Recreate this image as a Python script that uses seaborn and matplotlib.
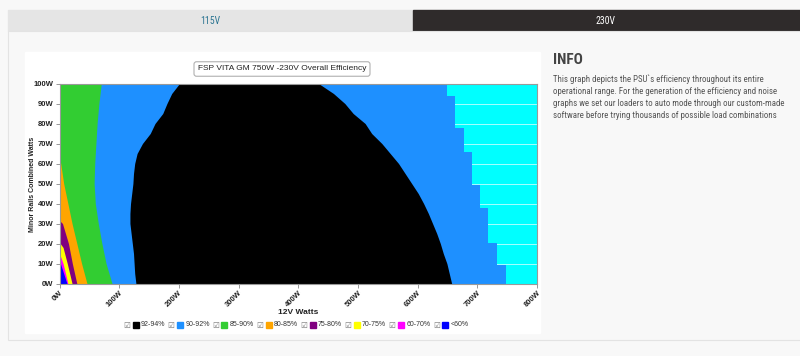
import numpy as np
import matplotlib.pyplot as plt
import seaborn as sns
from matplotlib import font_manager
from matplotlib.patches import Rectangle

# 12V load (W) where each efficiency zone ends, read per minor-rails load (W)
stair_minor = [0, 9.25, 20.4, 37.6, 49.25, 65.9, 77.6, 93.75, 100]
stair_12v = [748, 733, 718, 704, 691, 677, 663, 650, 650]  # 90-92% right edge

black_minor = [0, 5, 10, 15, 20, 25, 30, 35, 40, 45, 50, 55, 60, 65, 70, 75, 80, 85, 90, 95, 100]
black_left = [128, 126, 125, 124, 122, 120, 118, 118, 119, 121, 123, 124, 126, 130, 139, 152, 160, 173, 180, 188, 201]
black_right = [657, 653, 649, 643, 638, 632, 625, 618, 610, 601, 590, 579, 568, 554, 540, 523, 512, 492, 478, 459, 434]

green_minor = [0, 10, 20, 30, 40, 50, 60, 70, 80, 90, 100]
green_12v = [88, 78, 71, 65, 60, 58, 59, 61, 63, 66, 70]
orange_minor = [0, 10, 20, 30, 40, 50, 60, 63.5]
orange_12v = [46, 37, 29, 21, 14, 7, 2, 0]
purple_minor = [0, 10, 20, 30, 31.5]
purple_12v = [29, 21.5, 15, 5, 0]
yellow_minor = [0, 10, 18, 20.5]
yellow_12v = [21, 13, 6, 0]
magenta_minor = [0, 5, 10, 15]
magenta_12v = [14, 10, 6, 0]
low_minor = [0, 5, 10, 12]
low_12v = [12.5, 7, 1.5, 0]

legend_labels = ["92-94%", "90-92%", "85-90%", "80-85%", "75-80%", "70-75%", "60-70%", "<60%"]
legend_colors = ["#000000", "#1e90ff", "#32cd32", "#ffa500", "#800080", "#ffff00", "#ff00ff", "#0000ff"]
x_ticks = [0, 100, 200, 300, 400, 500, 600, 700, 800]
y_ticks = [0, 10, 20, 30, 40, 50, 60, 70, 80, 90, 100]

info_lines = [
    "This graph depicts the PSU`s efficiency throughout its entire",
    "operational range. For the generation of the efficiency and noise",
    "graphs we set our loaders to auto mode through our custom-made",
    "software before trying thousands of possible load combinations",
]


def pick(*names):
    for n in names:
        try:
            font_manager.findfont(n, fallback_to_default=False)
            return n
        except Exception:
            pass
    return "DejaVu Sans"


sns.set_style("white")
chart_font = pick("Liberation Sans", "DejaVu Sans")
narrow_font = pick("Roboto Condensed", "Liberation Sans Narrow", "Roboto")
plt.rcParams["font.family"] = [chart_font, "DejaVu Sans"]

W, H = 800, 356
fig = plt.figure(figsize=(8, 3.56), dpi=100)
fig.patch.set_facecolor("#f8f8f8")


def rect(x0, y0, x1, y1, **kw):
    fig.patches.append(Rectangle((x0 / W, 1 - y1 / H), (x1 - x0) / W, (y1 - y0) / H,
                                 transform=fig.transFigure, zorder=-5, **kw))


# tabs and panel
rect(8, 10, 413, 31, color="#e5e5e5")
rect(413, 10, 800, 31, color="#2f2b2b")
fig.text(210 / W, 1 - 21 / H, "115V", ha="center", va="center", fontsize=7,
         color="#2c7592", family=narrow_font)
fig.text(606 / W, 1 - 21 / H, "230V", ha="center", va="center", fontsize=7,
         color="white", family=narrow_font)
rect(8, 31, 801, 340, facecolor="#f8f8f8", edgecolor="#e3e3e3", lw=0.8)
rect(25, 52, 540, 333, color="white")

# chart
ax = fig.add_axes([59.5 / W, 1 - 283.5 / H, 477.5 / W, 200 / H])
ax.set_facecolor("#00ffff")
ax.set_axisbelow(True)
ax.yaxis.grid(True, color="#e8ffff", lw=0.5)

ax.fill_betweenx(stair_minor, 0, stair_12v, step="post", color="#1e90ff", lw=0, zorder=2)
ax.fill_betweenx(black_minor, black_left, black_right, color="#000000", lw=0, zorder=3)
ax.fill_betweenx(green_minor, 0, green_12v, color="#32cd32", lw=0, zorder=3)
ax.fill_betweenx(orange_minor, 0, orange_12v, color="#ffa500", lw=0, zorder=4)
ax.fill_betweenx(purple_minor, 0, purple_12v, color="#800080", lw=0, zorder=5)
ax.fill_betweenx(yellow_minor, 0, yellow_12v, color="#ffff00", lw=0, zorder=6)
ax.fill_betweenx(magenta_minor, 0, magenta_12v, color="#ff00ff", lw=0, zorder=7)
ax.fill_betweenx(low_minor, 0, low_12v, color="#0000ff", lw=0, zorder=8)

ax.set_xlim(0, 800)
ax.set_ylim(0, 100)
ax.set_xticks(x_ticks)
ax.set_xticklabels([f"{v}W" for v in x_ticks], rotation=45, ha="right", va="top",
                   rotation_mode="anchor", fontsize=5.5, fontweight="bold", color="#222")
ax.set_yticks(y_ticks)
ax.set_yticklabels([f"{v}W" for v in y_ticks], fontsize=5.5, fontweight="bold", color="#222")
ax.tick_params(length=3, width=0.6, color="#888", pad=1.5, bottom=True, left=True)
for s in ax.spines.values():
    s.set_color("#999")
    s.set_linewidth(0.8)
    s.set_zorder(10)

fig.text(298 / W, 1 - 313 / H, "12V Watts", ha="center", va="center", fontsize=6,
         fontweight="bold", color="#222")
fig.text(33 / W, 1 - 184 / H, "Minor Rails Combined Watts", ha="center", va="center",
         rotation=90, fontsize=5, fontweight="bold", color="#222")
fig.text(282 / W, 1 - 69 / H, "FSP VITA GM 750W -230V Overall Efficiency", ha="center",
         va="center", fontsize=6, color="#222",
         bbox=dict(boxstyle="round,pad=0.45,rounding_size=0.3", fc="white", ec="#b0b0b0", lw=0.8))

# legend
for i, (lab, col) in enumerate(zip(legend_labels, legend_colors)):
    x0 = 127 + i * 44.2
    fig.text(x0 / W, 1 - 325 / H, "\u2611", ha="center", va="center", fontsize=5.5,
             color="#777", family="DejaVu Sans")
    rect(x0 + 6, 322, x0 + 12, 328, color=col)
    fig.patches[-1].set_zorder(5)
    fig.text((x0 + 14) / W, 1 - 325 / H, lab, ha="left", va="center", fontsize=5,
             color="#333")

# info block
fig.text(553 / W, 1 - 60 / H, "INFO", ha="left", va="center", fontsize=11,
         fontweight="bold", color="#444", family=narrow_font)
for i, line in enumerate(info_lines):
    fig.text(553 / W, 1 - (79 + 12 * i) / H, line, ha="left", va="center", fontsize=6.4,
             color="#555", family=narrow_font)

fig.savefig("out.png", dpi=100, facecolor=fig.get_facecolor())
